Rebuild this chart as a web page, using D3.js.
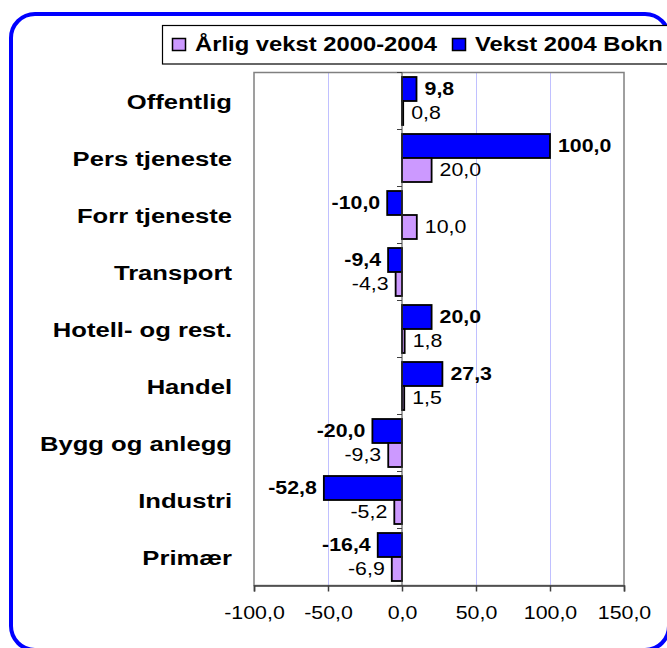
<!DOCTYPE html>
<html><head><meta charset="utf-8">
<script src="https://cdn.jsdelivr.net/npm/d3@7"></script>
<style>body{margin:0;background:#fff}svg{display:block}</style>
</head><body>
<script>
const categories = ["Offentlig","Pers tjeneste","Forr tjeneste","Transport","Hotell- og rest.","Handel","Bygg og anlegg","Industri","Primær"];
const seriesNames = ["Årlig vekst 2000-2004","Vekst 2004 Bokn"];
const arligVekst = [0.8,20.0,10.0,-4.3,1.8,1.5,-9.3,-5.2,-6.9];
const vekst2004 = [9.8,100.0,-10.0,-9.4,20.0,27.3,-20.0,-52.8,-16.4];
const xTicks = [-100,-50,0,50,100,150];

(function(){
const W=667,H=648, SX=1.22;
const svg=d3.select("body").append("svg").attr("width",W).attr("height",H);
const font="Liberation Sans, Arial, sans-serif";
svg.append("rect").attr("x",11).attr("y",14).attr("width",658).attr("height",636)
  .attr("rx",24).attr("fill","#fff").attr("stroke","#0000ff").attr("stroke-width",4);

function label(sel,x,y,txt,size,bold,anchor,dy){
  const gg=sel.append("g").attr("transform",`translate(${x},${y}) scale(${SX},1)`);
  gg.append("text").attr("text-anchor",anchor).attr("dy",dy||"0.36em")
    .attr("font-family",font).attr("font-size",size).attr("font-weight",bold?"bold":"normal")
    .attr("fill","#000").text(txt);
}

const pL=254,pR=624,pT=72.5,pB=585.5;
const x=d3.scaleLinear().domain([-100,150]).range([pL,pR]);
const y=d3.scaleBand().domain(categories).range([pT,pB]);
const fmt=v=>d3.format(".1f")(v).replace(".",",").replace("−","-");

const g=svg.append("g");
g.selectAll("line.grid").data(xTicks.filter(t=>t!==-100&&t!==150&&t!==0)).join("line")
  .attr("x1",d=>x(d)+0.5).attr("x2",d=>x(d)+0.5).attr("y1",pT).attr("y2",pB)
  .attr("stroke","#c0c0ff").attr("stroke-width",1);
g.append("rect").attr("x",pL).attr("y",pT).attr("width",pR-pL).attr("height",pB-pT)
  .attr("fill","none").attr("stroke","#808080").attr("stroke-width",1.5);

const bh=24, pad=(y.bandwidth()-2*bh)/2;
const series=[{vals:vekst2004,color:"#0000ff",off:0,bold:true},{vals:arligVekst,color:"#cc99ff",off:1,bold:false}];
series.forEach(s=>{
  g.selectAll(null).data(categories).join("rect")
    .attr("x",(d,i)=>x(Math.min(0,s.vals[i])))
    .attr("width",(d,i)=>Math.abs(x(s.vals[i])-x(0)))
    .attr("y",d=>y(d)+pad+s.off*bh).attr("height",bh)
    .attr("fill",s.color).attr("stroke","#000").attr("stroke-width",1.8);
  categories.forEach((c,i)=>{
    const v=s.vals[i];
    label(g, v>=0?x(v)+8:x(v)-7, y(c)+pad+s.off*bh+bh/2, fmt(v), 17.5, s.bold, v>=0?"start":"end");
  });
});
g.append("line").attr("x1",x(0)).attr("x2",x(0)).attr("y1",pT).attr("y2",pB).attr("stroke","#404040").attr("stroke-width",1);
g.selectAll("line.ztick").data(d3.range(categories.length+1)).join("line")
  .attr("x1",x(0)-5).attr("x2",x(0)).attr("y1",i=>pT+i*y.step()).attr("y2",i=>pT+i*y.step())
  .attr("stroke","#404040");

const ax=g.append("g").attr("transform",`translate(0,${pB})`)
  .call(d3.axisBottom(x).tickValues(xTicks).tickSize(6).tickPadding(15).tickFormat(fmt));
ax.select(".domain").attr("stroke","#404040").attr("stroke-width",1.5);
ax.selectAll(".tick line").attr("stroke","#404040").attr("stroke-width",1.5);
ax.selectAll("text").attr("font-family",font).attr("font-size",17.5).attr("fill","#000")
  .attr("transform",`scale(${SX},1)`);

categories.forEach(c=>label(g,232,y(c)+y.bandwidth()/2,c,21,true,"end","0.38em"));

svg.append("rect").attr("x",162.5).attr("y",25.5).attr("width",600).attr("height",38.5)
  .attr("fill","#fff").attr("stroke","#000").attr("stroke-width",1.2);
const legColors=["#cc99ff","#0000ff"];
const legX=[172,452];
seriesNames.forEach((n,i)=>{
  svg.append("rect").attr("x",legX[i]+0.5).attr("y",38.5).attr("width",13).attr("height",12)
    .attr("fill",legColors[i]).attr("stroke","#000").attr("stroke-width",1.5);
  label(svg,legX[i]+23,51,n,19.5,true,"start","0");
});
})();
</script>
</body></html>
